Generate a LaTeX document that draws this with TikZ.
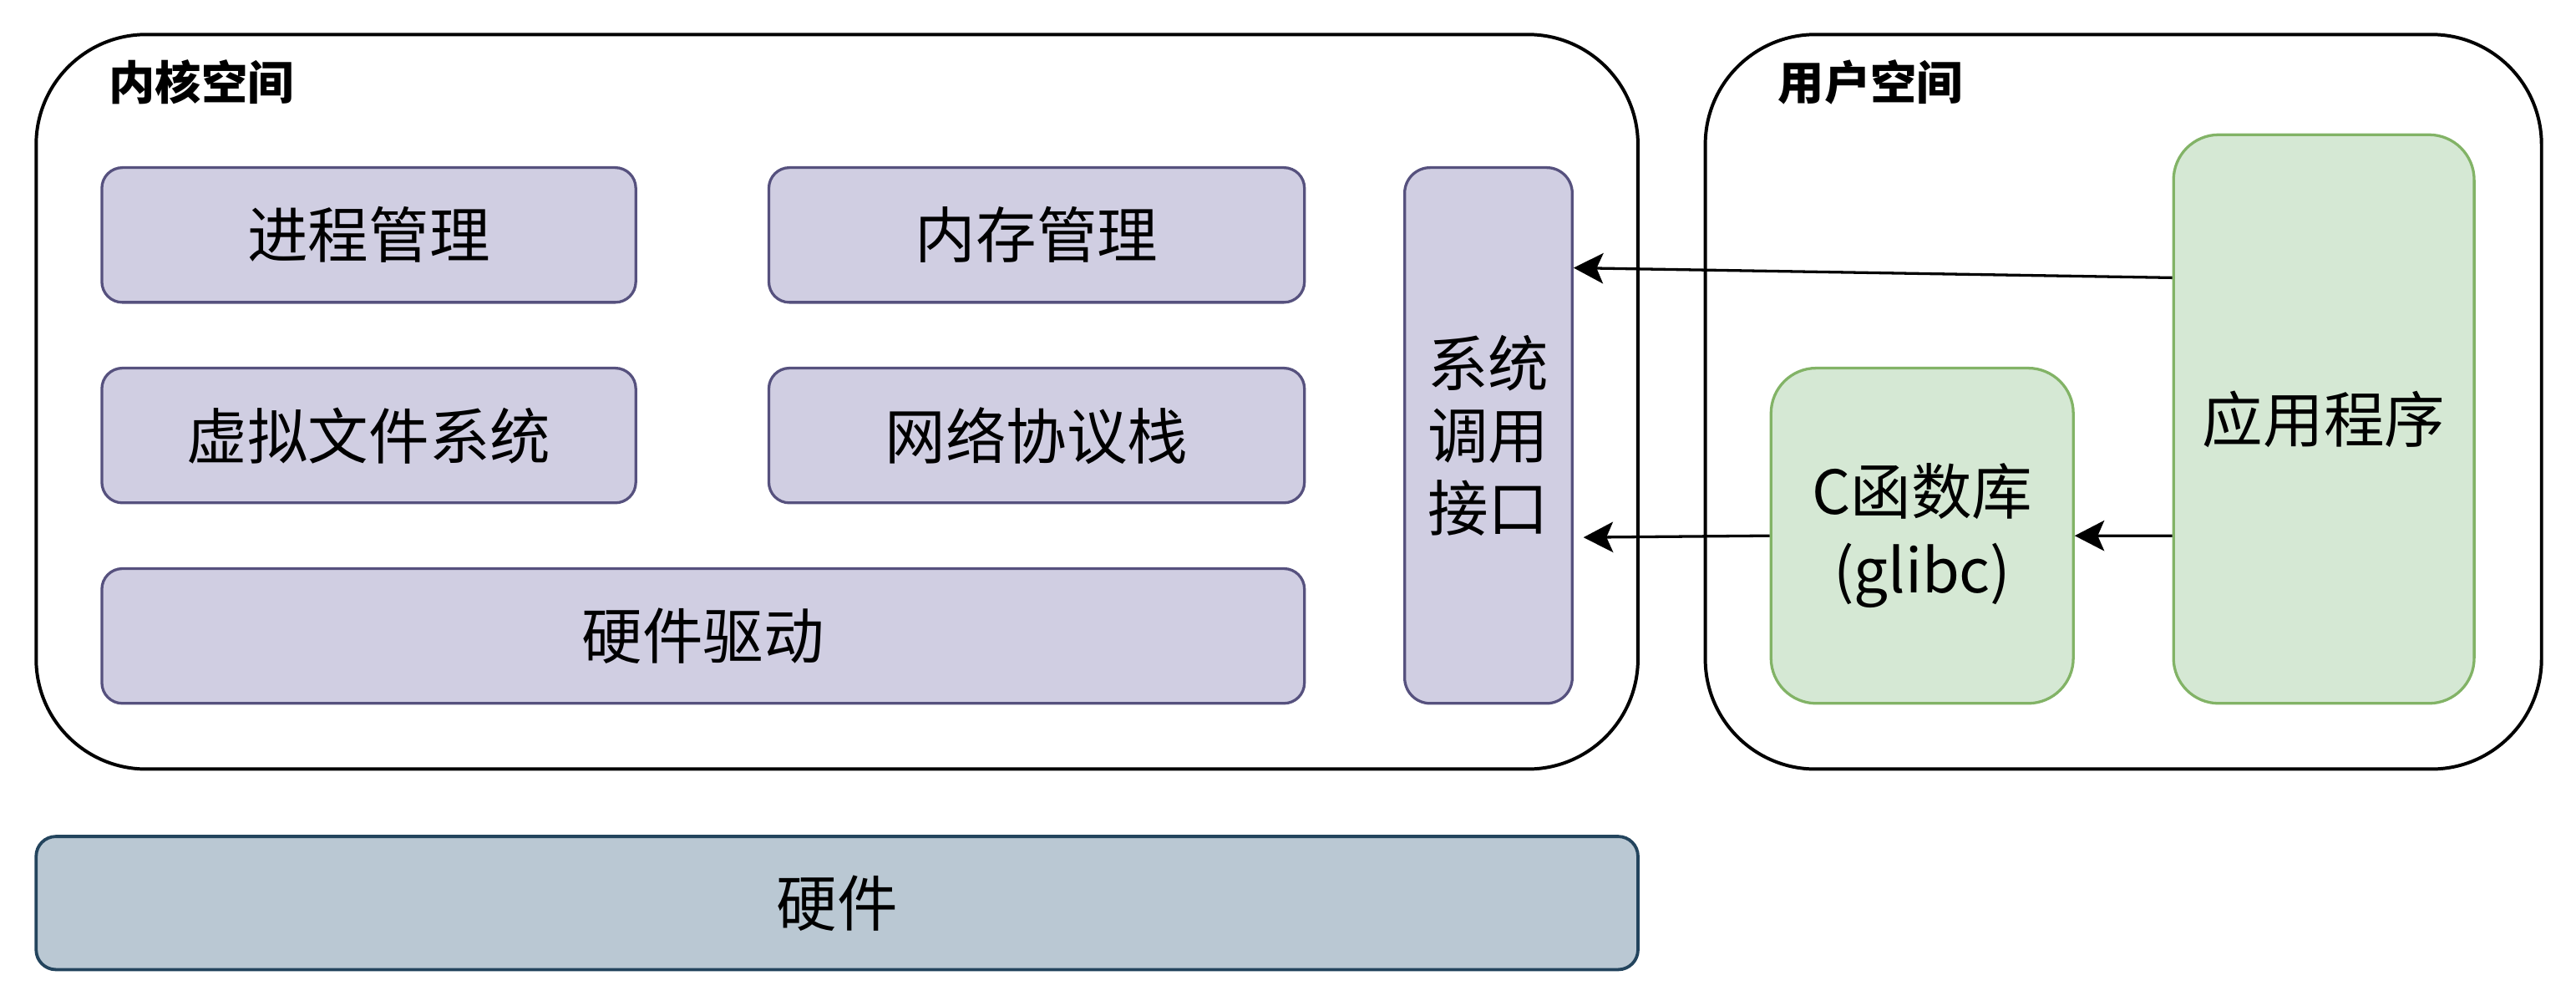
\documentclass[tikz,border=0pt]{standalone}
\usepackage{fontspec}
\usepackage{xcolor}
\usepackage{tikz}
\usetikzlibrary{arrows.meta, positioning}
\newfontfamily\cjk{Noto Sans CJK SC}

\definecolor{kfill}{HTML}{D0CEE2}
\definecolor{kline}{HTML}{56517E}
\definecolor{ufill}{HTML}{D5E8D4}
\definecolor{uline}{HTML}{82B366}
\definecolor{hfill}{HTML}{BAC8D3}
\definecolor{hline}{HTML}{23445D}

\begin{document}
\begin{tikzpicture}[
	space/.style={draw=black, line width=1.15pt, rounded corners=1.34cm, inner sep=0pt},
	kbox/.style={draw=kline, fill=kfill, line width=0.95pt, inner sep=0pt, align=center,
		font=\cjk\fontsize{21pt}{25pt}\selectfont},
	ubox/.style={draw=uline, fill=ufill, line width=0.95pt, rounded corners=0.55cm, inner sep=0pt,
		align=center, font=\cjk\fontsize{21pt}{27pt}\selectfont},
	title/.style={anchor=west, inner sep=0pt, font=\cjk\bfseries\fontsize{16pt}{19pt}\selectfont},
	call/.style={-{Stealth[length=0.36cm, width=0.37cm, inset=0.08cm]}, line width=0.95pt}]
	\useasboundingbox (0, 0) rectangle (31.36, 12.24);
	% Spaces:
	\node[space, minimum width=19.5cm, minimum height=8.94cm](kern) at (10.19, 7.35){};
	\node[space, minimum width=10.18cm, minimum height=8.94cm](user) at (25.85, 7.35){};
	\node[title](kernt) at (1.32, 11.24){内核空间};
	\node[title](usert) at (21.64, 11.24){用户空间};
	% Kernel parts:
	\node[kbox, rounded corners=0.25cm, minimum width=6.5cm, minimum height=1.64cm](proc) at (4.49, 9.38){进程管理};
	\node[kbox, rounded corners=0.25cm, minimum width=6.52cm, minimum height=1.64cm](mem) at (12.62, 9.38){内存管理};
	\node[kbox, rounded corners=0.25cm, minimum width=6.5cm, minimum height=1.64cm](vfs) at (4.49, 6.94){虚拟文件系统};
	\node[kbox, rounded corners=0.25cm, minimum width=6.52cm, minimum height=1.64cm](net) at (12.62, 6.94){网络协议栈};
	\node[kbox, rounded corners=0.25cm, minimum width=14.64cm, minimum height=1.64cm](drv) at (8.56, 4.5){硬件驱动};
	\node[kbox, rounded corners=0.31cm, minimum width=2.04cm, minimum height=6.52cm](sci) at (18.12, 6.94){系统\\调用\\接口};
	% Hardware:
	\node[kbox, draw=hline, fill=hfill, line width=1.1pt, rounded corners=0.24cm,
		minimum width=19.5cm, minimum height=1.62cm](hw) at (10.19, 1.25){硬件};
	% User parts:
	\node[ubox, minimum width=3.66cm, minimum height=6.92cm](app) at (28.29, 7.14){应用程序};
	\node[ubox, minimum width=3.68cm, minimum height=4.08cm](libc) at (23.4, 5.72){C函数库\\(glibc)};
	% Calls:
	\draw[call] ([yshift=1.72cm]app.west) -- ([yshift=2.04cm]sci.east);
	\draw[call] (libc.west) -- ([xshift=0.12cm, yshift=-1.24cm]sci.east);
	\draw[call] ([yshift=-1.42cm]app.west) -- (libc.east);
\end{tikzpicture}
\end{document}
